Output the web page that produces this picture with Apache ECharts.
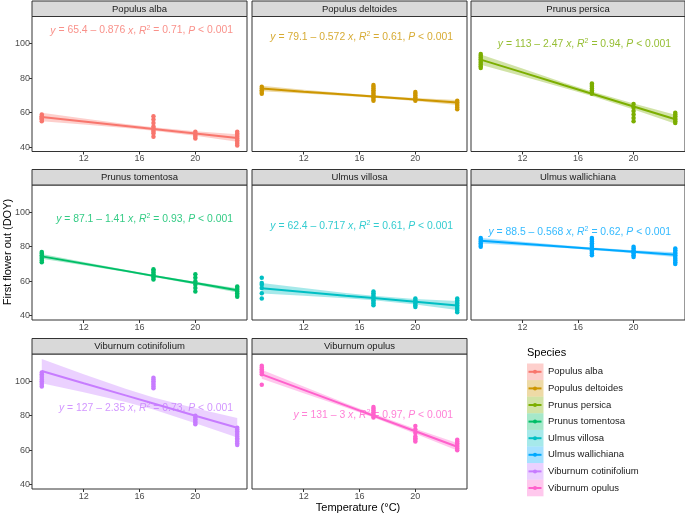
<!DOCTYPE html>
<html>
<head>
<meta charset="utf-8">
<script src="https://cdn.jsdelivr.net/npm/echarts@6/dist/echarts.min.js"></script>
<style>
  html, body { margin: 0; padding: 0; background: #fff; }
  #chart { width: 685px; height: 515px; }
</style>
</head>
<body>
<div id="chart"></div>
<script>
  // species & ggplot hue colours
  const species = ['Populus alba', 'Populus deltoides', 'Prunus persica', 'Prunus tomentosa',
    'Ulmus villosa', 'Ulmus wallichiana', 'Viburnum cotinifolium', 'Viburnum opulus']
  const colors = ['#F8766D', '#CD9600', '#7CAE00', '#00BE67', '#00BFC4', '#00A9FF', '#C77CFF', '#FF61CC']

  // temperatures of the observation groups
  const temps = [9, 17, 20, 23]

  // first flower out (DOY) per temperature group
  const doyAlba = [[55, 56, 57, 58, 59, 57.5, 56.5], [46, 48, 49, 50, 51, 52, 54, 56, 58], [45, 46, 47, 48, 49], [41, 42, 43, 44, 45, 46, 47, 48, 49]]
  const doyDeltoides = [[71, 72, 73, 74, 75], [67, 68, 69, 70, 71, 72, 73, 74, 75, 76], [67, 68, 69, 70, 71, 72], [62, 63, 64, 65, 66, 67]]
  const doyPersica = [[86, 87, 88, 89, 90, 91, 92, 93, 94], [71, 72, 73, 74, 75, 76, 77], [55, 57, 59, 61, 63, 65], [54, 55, 56, 57, 58, 59, 60]]
  const doyTomentosa = [[71, 72, 73, 74, 75, 76, 77], [61, 62, 63, 64, 65, 66, 67], [54, 56, 58, 60, 62, 64], [51, 52, 53, 54, 55, 56, 57]]
  const doyVillosa = [[50, 53, 56, 58, 59, 62], [46, 47, 48, 49, 50, 51, 52, 53, 54], [45, 46, 47, 48, 49, 50], [42, 43, 44, 45, 46, 47, 48, 49, 50]]
  const doyWallichiana = [[80, 81, 82, 83, 84, 85], [75, 76, 77, 78, 79, 80, 81, 82, 83, 84, 85], [74, 75, 76, 77, 78, 79, 80], [70, 71, 72, 73, 74, 75, 76, 77, 78, 79]]
  const doyCotinifolium = [[97, 98, 99, 100, 101, 102, 103, 104, 105], [96, 97, 98, 99, 100, 101, 102], [75, 76, 77, 78, 79, 80], [63, 64, 65, 66, 67, 68, 69, 70, 71, 72, 73]]
  const doyOpulus = [[98, 104, 105, 106, 107, 108, 109], [79, 80, 81, 82, 83, 84, 85], [65, 66, 67, 68, 70, 72, 74], [60, 61, 62, 63, 64, 65, 66]]
  const observations = [doyAlba, doyDeltoides, doyPersica, doyTomentosa, doyVillosa, doyWallichiana, doyCotinifolium, doyOpulus]

  // fitted line and confidence band half width, at fitX
  const fitX = [9, 12, 15, 17, 20, 23]
  const fitY = [
    [57.5, 54.9, 52.3, 50.5, 47.9, 45.3],
    [74.0, 72.2, 70.5, 69.4, 67.7, 65.9],
    [90.8, 83.4, 75.9, 71.0, 63.6, 56.2],
    [74.4, 70.2, 66.0, 63.1, 58.9, 54.7],
    [55.9, 53.8, 51.6, 50.2, 48.1, 45.9],
    [83.4, 81.7, 80.0, 78.8, 77.1, 75.4],
    [105.9, 98.8, 91.8, 87.1, 80.0, 73.0],
    [104, 95, 86, 80, 71, 62]
  ]
  const bandHalf = [
    [2.5, 1.8, 1.2, 1.0, 1.3, 2.2],
    [1.6, 1.1, 0.8, 0.7, 0.9, 1.4],
    [3.0, 2.2, 1.5, 1.3, 1.7, 2.6],
    [1.4, 1.0, 0.7, 0.6, 0.8, 1.2],
    [3.0, 2.2, 1.5, 1.3, 1.6, 2.6],
    [1.6, 1.2, 0.8, 0.7, 0.9, 1.4],
    [7.0, 5.2, 3.9, 3.5, 4.3, 5.7],
    [2.6, 1.9, 1.3, 1.1, 1.4, 2.2]
  ]

  // regression equation texts
  const eqIntercept = ['65.4', '79.1', '113', '87.1', '62.4', '88.5', '127', '131']
  const eqSlope = ['0.876', '0.572', '2.47', '1.41', '0.717', '0.568', '2.35', '3']
  const eqR2 = ['0.71', '0.61', '0.94', '0.93', '0.61', '0.62', '0.73', '0.97']
  const eqLabelY = [107.6, 103.8, 100, 96.1, 92.2, 88.4, 84.3, 80.4]

  const xTicks = [12, 16, 20]
  const yTicks = [40, 60, 80, 100]

  // layout
  const FONT = 'Liberation Sans, Arial, sans-serif'
  const colLeft = [32, 252, 471]
  const colW = [215, 215, 214]
  const stripTop = [1, 169.5, 338.5]
  const stripH = 15.5
  const plotH = 135

  const chart = echarts.init(document.getElementById('chart'), null, { renderer: 'canvas' })

  function rgba(hex, a) {
    const n = parseInt(hex.slice(1), 16)
    return `rgba(${(n >> 16) & 255},${(n >> 8) & 255},${n & 255},${a})`
  }

  const grids = [], xAxes = [], yAxes = [], series = [], graphics = []

  species.forEach((name, i) => {
    const col = i % 3
    const row = Math.floor(i / 3)
    const color = colors[i]
    grids.push({
      left: colLeft[col], top: stripTop[row] + stripH, width: colW[col], height: plotH,
      show: true, borderColor: '#333', borderWidth: 1, backgroundColor: '#fff'
    })
    xAxes.push({
      gridIndex: i, type: 'value', min: 8.3, max: 23.7,
      axisLine: { show: false }, splitLine: { show: false },
      axisTick: { show: true, length: 3, customValues: xTicks, lineStyle: { color: '#333' } },
      axisLabel: { customValues: xTicks, fontSize: 9, color: '#4D4D4D', margin: 3, fontFamily: FONT }
    })
    yAxes.push({
      gridIndex: i, type: 'value', min: 37.5, max: 115.8,
      axisLine: { show: false }, splitLine: { show: false },
      axisTick: { show: col === 0, length: 3, customValues: yTicks, lineStyle: { color: '#333' } },
      axisLabel: { show: col === 0, customValues: yTicks, fontSize: 9, color: '#4D4D4D', margin: 2, fontFamily: FONT }
    })

    const pts = []
    temps.forEach((t, j) => observations[i][j].forEach(v => pts.push([t, v])))
    series.push({
      type: 'scatter', xAxisIndex: i, yAxisIndex: i, data: pts, symbolSize: 4.5,
      itemStyle: { color, opacity: 1 }, silent: true, z: 2
    })

    const band = fitX.map((x, k) => [x, fitY[i][k] - bandHalf[i][k], fitY[i][k] + bandHalf[i][k]])
    series.push({
      type: 'custom', xAxisIndex: i, yAxisIndex: i, data: band, silent: true, z: 3,
      encode: { x: 0, y: [1, 2] },
      renderItem(params, api) {
        if (params.dataIndex !== 0) return
        const up = band.map(d => api.coord([d[0], d[2]]))
        const lo = band.map(d => api.coord([d[0], d[1]])).reverse()
        return { type: 'polygon', shape: { points: up.concat(lo) }, style: { fill: rgba(color, 0.35) } }
      }
    })
    series.push({
      type: 'line', xAxisIndex: i, yAxisIndex: i, data: fitX.map((x, k) => [x, fitY[i][k]]),
      showSymbol: false, lineStyle: { color, width: 2 }, itemStyle: { color }, silent: true, z: 4
    })
    series.push({
      type: 'scatter', xAxisIndex: i, yAxisIndex: i, data: [[22.7, eqLabelY[i]]], symbolSize: 0, silent: true, z: 5,
      label: {
        show: true, position: [0, 0], align: 'right', verticalAlign: 'middle',
        formatter: `{i|y} = ${eqIntercept[i]} \u2013 ${eqSlope[i]} {i|x}, {i|R}{s|2} = ${eqR2[i]}, {i|P} < 0.001`,
        color, fontSize: 10.4, fontFamily: FONT, lineHeight: 13,
        rich: {
          i: { fontStyle: 'italic', fontSize: 10.4, color, fontFamily: FONT, lineHeight: 13 },
          s: { fontSize: 7, color, fontFamily: FONT, verticalAlign: 'top', lineHeight: 7 }
        }
      }
    })

    // facet strip
    graphics.push({
      type: 'rect', shape: { x: colLeft[col], y: stripTop[row], width: colW[col], height: stripH },
      style: { fill: '#D9D9D9', stroke: '#333', lineWidth: 1 }, z: 10
    })
    graphics.push({
      type: 'text', x: colLeft[col] + colW[col] / 2, y: stripTop[row] + stripH / 2 + 0.5, z: 11,
      style: { text: name, fontSize: 9.5, fill: '#1A1A1A', align: 'center', verticalAlign: 'middle', fontFamily: FONT }
    })
  })

  // axis titles
  graphics.push({
    type: 'text', x: 8, y: 252, rotation: Math.PI / 2,
    style: { text: 'First flower out (DOY)', fontSize: 11, fill: '#000', align: 'center', verticalAlign: 'middle', fontFamily: FONT }
  })
  graphics.push({
    type: 'text', x: 358, y: 508,
    style: { text: 'Temperature (\u00B0C)', fontSize: 11, fill: '#000', align: 'center', verticalAlign: 'middle', fontFamily: FONT }
  })

  // legend
  graphics.push({
    type: 'text', x: 527, y: 353,
    style: { text: 'Species', fontSize: 11, fill: '#000', align: 'left', verticalAlign: 'middle', fontFamily: FONT }
  })
  species.forEach((name, i) => {
    const top = 363.5 + i * 16.6
    const cy = top + 8.3
    graphics.push({ type: 'rect', shape: { x: 527, y: top, width: 16.5, height: 16.6 }, style: { fill: rgba(colors[i], 0.35) } })
    graphics.push({ type: 'line', shape: { x1: 528.5, y1: cy, x2: 541.5, y2: cy }, style: { stroke: colors[i], lineWidth: 2 } })
    graphics.push({ type: 'circle', shape: { cx: 535, cy, r: 2 }, style: { fill: colors[i] } })
    graphics.push({
      type: 'text', x: 548, y: cy,
      style: { text: name, fontSize: 9.5, fill: '#1A1A1A', align: 'left', verticalAlign: 'middle', fontFamily: FONT }
    })
  })

  chart.setOption({
    animation: false,
    textStyle: { fontFamily: FONT },
    grid: grids,
    xAxis: xAxes,
    yAxis: yAxes,
    series,
    graphic: graphics
  })
</script>
</body>
</html>
